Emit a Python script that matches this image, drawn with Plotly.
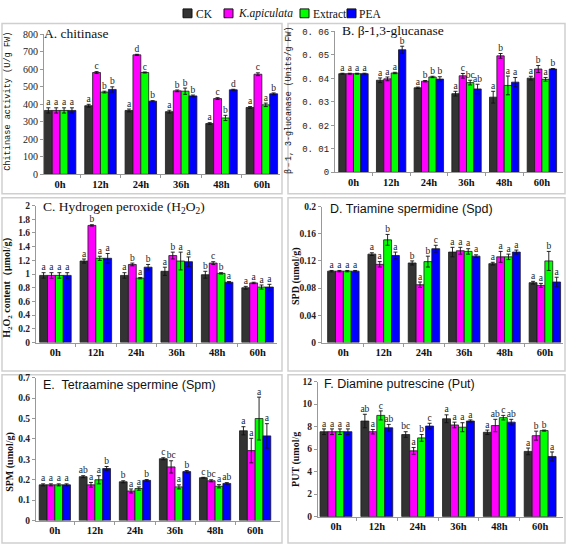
import plotly.graph_objects as go

W, H = 567, 552

times = ["0h", "12h", "24h", "36h", "48h", "60h"]
series = ["CK", "K.apiculata", "Extract", "PEA"]
colors = ["#333333", "#ff00ff", "#00ff00", "#0000ff"]

# A. chitinase (U/g FW)
A_mean = [[365, 392, 365, 358, 290, 382],
          [365, 582, 683, 477, 433, 572],
          [365, 470, 582, 475, 322, 397],
          [365, 485, 418, 448, 483, 460]]
A_err = [[15, 8, 8, 8, 5, 5],
         [15, 5, 3, 5, 5, 8],
         [15, 5, 3, 18, 15, 10],
         [15, 15, 3, 5, 3, 5]]
A_let = [["a", "a", "a", "a", "a", "a"],
         ["a", "c", "d", "b", "c", "c"],
         ["a", "b", "c", "b", "b", "a"],
         ["a", "b", "b", "b", "d", "b"]]

# B. beta-1,3-glucanase (Units/g FW)
B_mean = [[0.042, 0.0392, 0.036, 0.0335, 0.032, 0.0401],
          [0.042, 0.0398, 0.0388, 0.0411, 0.0496, 0.0440],
          [0.042, 0.0423, 0.0406, 0.0382, 0.0370, 0.0396],
          [0.042, 0.0522, 0.0397, 0.0355, 0.0384, 0.0440]]
B_err = [[0.0002, 0.0010, 0.0003, 0.0010, 0.0025, 0.0008],
         [0.0002, 0.0008, 0.0003, 0.0010, 0.0010, 0.0015],
         [0.0002, 0.0003, 0.0003, 0.0010, 0.0040, 0.0008],
         [0.0002, 0.0015, 0.0010, 0.0020, 0.0020, 0.0002]]
B_let = [["a", "a", "a", "a", "a", "a"],
         ["a", "a", "b", "c", "b", "b"],
         ["a", "a", "b", "bc", "a", "a"],
         ["a", "b", "b", "ab", "a", "b"]]
B_ticks = [0, 0.01, 0.02, 0.03, 0.04, 0.05, 0.06]
B_ticktext = ["0", "0. 01", "0. 02", "0. 03", "0. 04", "0. 05", "0. 06"]

# C. Hydrogen peroxide (umol/g)
C_mean = [[0.98, 1.19, 0.98, 1.04, 0.99, 0.80],
          [0.98, 1.71, 1.14, 1.27, 1.16, 0.87],
          [0.98, 1.23, 0.94, 1.19, 1.01, 0.81],
          [0.98, 1.23, 1.10, 1.18, 0.88, 0.81]]
C_err = [[0.04, 0.03, 0.04, 0.06, 0.05, 0.02],
         [0.04, 0.01, 0.02, 0.05, 0.02, 0.01],
         [0.04, 0.03, 0.01, 0.13, 0.01, 0.03],
         [0.04, 0.07, 0.04, 0.07, 0.01, 0.04]]
C_let = [["a", "a", "a", "a", "b", "a"],
         ["a", "b", "b", "b", "c", "a"],
         ["a", "a", "a", "a", "b", "a"],
         ["a", "a", "b", "a", "a", "a"]]

# D. Triamine spermidine (umol/g)
D_mean = [[0.105, 0.130, 0.117, 0.133, 0.116, 0.088],
          [0.105, 0.115, 0.085, 0.135, 0.126, 0.084],
          [0.105, 0.151, 0.119, 0.134, 0.126, 0.120],
          [0.105, 0.128, 0.138, 0.127, 0.133, 0.089]]
D_err = [[0.001, 0.002, 0.003, 0.007, 0.002, 0.002],
         [0.001, 0.004, 0.004, 0.005, 0.008, 0.003],
         [0.001, 0.008, 0.008, 0.004, 0.004, 0.014],
         [0.001, 0.005, 0.005, 0.002, 0.003, 0.007]]
D_let = [["a", "a", "b", "a", "a", "a"],
         ["a", "a", "a", "a", "a", "a"],
         ["a", "b", "b", "a", "a", "b"],
         ["a", "a", "c", "a", "a", "a"]]

# E. Tetraamine spermine (umol/g)
E_mean = [[0.175, 0.215, 0.190, 0.303, 0.210, 0.440],
          [0.175, 0.175, 0.145, 0.263, 0.195, 0.343],
          [0.175, 0.200, 0.157, 0.165, 0.168, 0.500],
          [0.175, 0.255, 0.197, 0.240, 0.182, 0.415]]
E_err = [[0.005, 0.005, 0.005, 0.005, 0.002, 0.020],
         [0.005, 0.012, 0.010, 0.030, 0.005, 0.060],
         [0.005, 0.020, 0.008, 0.010, 0.008, 0.105],
         [0.005, 0.010, 0.004, 0.005, 0.004, 0.060]]
E_let = [["a", "ab", "b", "c", "c", "a"],
         ["a", "a", "a", "bc", "bc", "a"],
         ["a", "a", "a", "a", "a", "a"],
         ["a", "b", "b", "b", "ab", "a"]]

# F. Diamine putrescine (umol/g)
F_mean = [[7.55, 8.50, 7.30, 8.70, 7.50, 5.80],
          [7.55, 7.55, 5.85, 8.15, 8.10, 7.20],
          [7.55, 9.00, 7.00, 7.95, 8.80, 7.65],
          [7.55, 7.90, 8.05, 8.50, 8.40, 5.35]]
F_err = [[0.25, 0.60, 0.25, 0.35, 0.20, 0.30],
         [0.25, 0.20, 0.30, 0.25, 0.55, 0.40],
         [0.25, 0.40, 0.30, 0.40, 0.20, 0.05],
         [0.25, 0.30, 0.25, 0.10, 0.25, 0.40]]
F_let = [["a", "ab", "bc", "a", "a", "a"],
         ["a", "a", "a", "a", "ab", "b"],
         ["a", "c", "b", "a", "c", "b"],
         ["a", "ab", "c", "a", "ab", "a"]]

SERIF = "Liberation Serif"
SANS = "Liberation Sans"
MONO = "Liberation Mono"


def px(x):
    return x / W


def py(y):
    return 1 - y / H


panels = [
    dict(mean=A_mean, err=A_err, let=A_let, yr=[0, 800], dtick=100,
         xd=(44, 280), yd=(172, 29), xr=[-0.40, 5.45],
         title="A. chitinase", tfont=SERIF, tsize=13.5, tpos=(42, 28),
         ytitle="Chitinase activity (U/g FW)", yfont=MONO, ysize=8.6,
         ypos=(8, 98), tickfont=dict(family=SERIF, size=10, color="#222")),
    dict(mean=B_mean, err=B_err, let=B_let, yr=[0, 0.06], tickvals=B_ticks, ticktext=B_ticktext,
         xd=(335, 563), yd=(170, 26), xr=[-0.49, 5.56],
         title="B. β-1,3-glucanase", tfont=SERIF, tsize=13.5, tpos=(340, 25),
         ytitle="β－1, 3-glucanase (Units/g FW)", yfont=MONO, ysize=8.3,
         ypos=(289, 97), tickfont=dict(family=MONO, size=9, color="#222")),
    dict(mean=C_mean, err=C_err, let=C_let, yr=[0, 2], dtick=0.2,
         xd=(36, 277), yd=(344, 204), xr=[-0.48, 5.48],
         title="C. Hydrogen peroxide (H<sub>2</sub>O<sub>2</sub>)", tfont=SERIF, tsize=13.5, tpos=(41, 206),
         ytitle="<b>H<sub>2</sub>O<sub>2</sub> content（μmol/g）</b>", yfont=SERIF, ysize=10,
         ypos=(8, 285), tickfont=dict(family=SERIF, size=9.5, color="#222")),
    dict(mean=D_mean, err=D_err, let=D_let, yr=[0, 0.2], dtick=0.04,
         xd=(322, 563), yd=(344, 205), xr=[-0.53, 5.45],
         title="D. Triamine spermidine (Spd)", tfont=SANS, tsize=12.5, tpos=(328, 207),
         ytitle="<b>SPD (umol/g)</b>", yfont=SERIF, ysize=10,
         ypos=(296, 276), tickfont=dict(family=SERIF, size=9.5, color="#222")),
    dict(mean=E_mean, err=E_err, let=E_let, yr=[0, 0.7], dtick=0.1,
         xd=(36, 280), yd=(526, 380), xr=[-0.47, 5.62],
         title="E.  Tetraamine spermine (Spm)", tfont=SANS, tsize=12.5, tpos=(41, 387),
         ytitle="<b>SPM (umol/g)</b>", yfont=SERIF, ysize=10,
         ypos=(10, 466), tickfont=dict(family=SERIF, size=9.5, color="#222")),
    dict(mean=F_mean, err=F_err, let=F_let, yr=[0, 12], dtick=2,
         xd=(318, 563), yd=(522, 384), xr=[-0.44, 5.56],
         title="F. Diamine putrescine (Put)", tfont=SANS, tsize=12.5, tpos=(322, 386),
         ytitle="<b>PUT (umol/g</b>", yfont=SERIF, ysize=10,
         ypos=(296, 464), tickfont=dict(family=SERIF, size=9.5, color="#222")),
]

boxes = [(2, 18, 282, 192), (288, 18, 565, 192),
         (2, 196, 282, 373), (288, 196, 565, 373),
         (2, 377, 282, 549), (288, 377, 565, 549)]

bw = 0.195
fig = go.Figure()
layout = dict(width=W, height=H, margin=dict(l=0, r=0, t=0, b=0),
              paper_bgcolor="white", plot_bgcolor="white", showlegend=False,
              bargap=0, annotations=[], shapes=[])

for pi, p in enumerate(panels):
    n = "" if pi == 0 else str(pi + 1)
    xa, ya = "x" + n, "y" + n
    for si in range(4):
        xs = [i + (si - 1.5) * bw for i in range(len(times))]
        fig.add_trace(go.Bar(
            x=xs, y=p["mean"][si], width=bw, xaxis=xa, yaxis=ya,
            marker=dict(color=colors[si], line=dict(color="#1a1a1a", width=0.8)),
            error_y=dict(type="data", array=p["err"][si], color="#111", thickness=0.9, width=2),
            name=series[si], hoverinfo="skip"))
        tops = [m + e for m, e in zip(p["mean"][si], p["err"][si])]
        fig.add_trace(go.Scatter(
            x=xs, y=tops, xaxis=xa, yaxis=ya, mode="text", text=p["let"][si],
            textposition="top center", cliponaxis=False,
            textfont=dict(family=SERIF, size=9.5, color="#222"), hoverinfo="skip"))
    xaxis = dict(domain=[px(p["xd"][0]), px(p["xd"][1])], range=p["xr"], anchor=ya,
                 tickvals=list(range(len(times))), ticktext=times, ticks="",
                 tickfont=dict(family=SERIF, size=10.5, color="#111", weight="bold"),
                 showline=True, linecolor="#999", linewidth=1, showgrid=False, zeroline=False,
                 minor=dict(tickvals=[i + 0.5 for i in range(len(times) - 1)],
                            ticks="outside", ticklen=3, tickcolor="#999"))
    yaxis = dict(domain=[py(p["yd"][0]), py(p["yd"][1])], range=p["yr"], anchor=xa,
                 showline=True, linecolor="#999", linewidth=1, showgrid=False, zeroline=False,
                 ticks="outside", ticklen=3, tickcolor="#999",
                 tickfont=dict(p["tickfont"], weight="normal" if pi < 2 else "bold"))
    if "tickvals" in p:
        yaxis.update(tickvals=p["tickvals"], ticktext=p["ticktext"])
    else:
        yaxis.update(dtick=p["dtick"], tick0=0)
    layout["xaxis" + n] = xaxis
    layout["yaxis" + n] = yaxis
    layout["annotations"].append(dict(
        x=px(p["tpos"][0]), y=py(p["tpos"][1]), xref="paper", yref="paper",
        xanchor="left", yanchor="middle", showarrow=False, text=p["title"],
        font=dict(family=p["tfont"], size=p["tsize"], color="#111")))
    layout["annotations"].append(dict(
        x=px(p["ypos"][0]), y=py(p["ypos"][1]), xref="paper", yref="paper",
        xanchor="center", yanchor="middle", showarrow=False, text=p["ytitle"], textangle=-90,
        font=dict(family=p["yfont"], size=p["ysize"], color="#111")))

for (x0, y0, x1, y1) in boxes:
    layout["shapes"].append(dict(type="rect", xref="paper", yref="paper",
                                 x0=px(x0), x1=px(x1), y0=py(y0), y1=py(y1),
                                 line=dict(color="#cfcfcf", width=1.5), layer="below"))

# legend (top)
leg_sq = [183, 224, 300, 347]
leg_tx = [194, 236, 311, 357]
for si in range(4):
    layout["shapes"].append(dict(type="rect", xref="paper", yref="paper",
                                 x0=px(leg_sq[si]), x1=px(leg_sq[si] + 9), y0=py(12), y1=py(3),
                                 fillcolor=colors[si], line=dict(color="#111", width=1)))
    label = "<i>" + series[si] + "</i>" if si == 1 else series[si]
    layout["annotations"].append(dict(
        x=px(leg_tx[si]), y=py(8), xref="paper", yref="paper", xanchor="left", yanchor="middle",
        showarrow=False, text=label, font=dict(family=SERIF, size=11.5, color="#111")))

fig.update_layout(**layout)
fig.write_html("out.html", config={"displayModeBar": False, "staticPlot": True},
               post_script="document.body.style.margin='0';document.body.style.overflow='hidden';")
